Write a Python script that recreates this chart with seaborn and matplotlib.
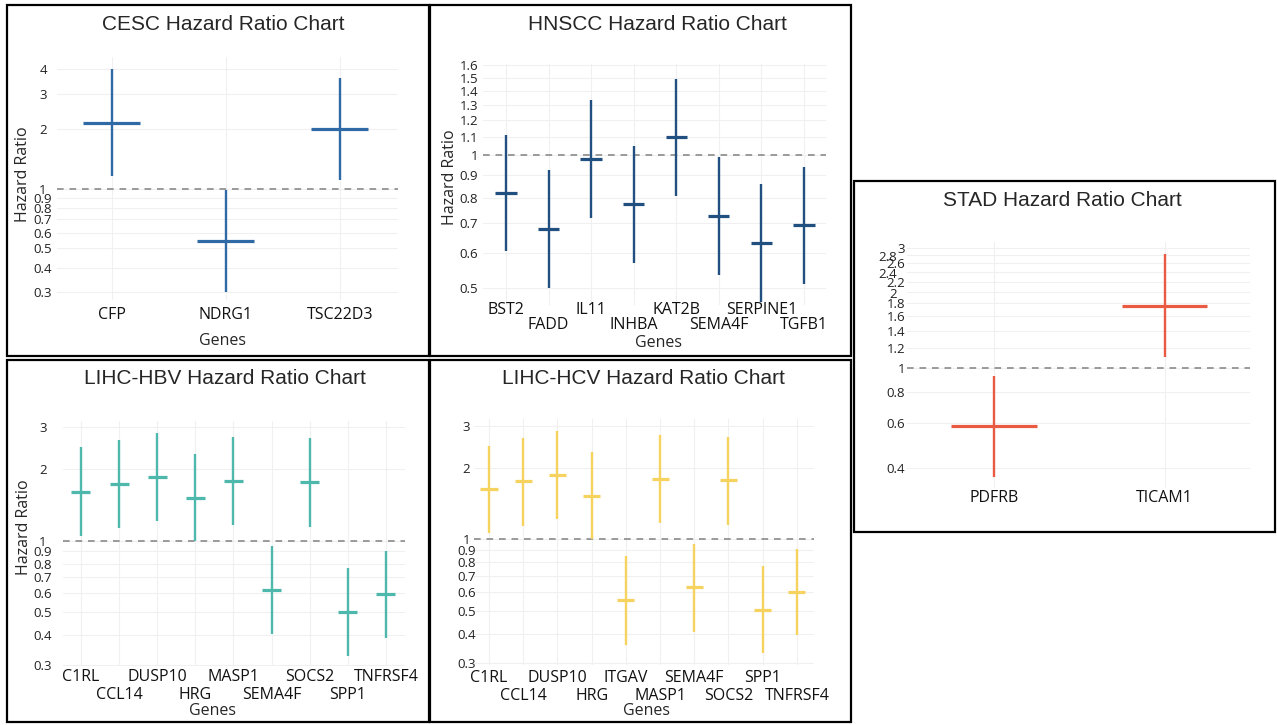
"""Hazard ratio charts for five cancer cohorts (log-scale crosses)."""

import matplotlib
matplotlib.use("Agg")
import matplotlib.pyplot as plt
import matplotlib.transforms as mtransforms
from matplotlib.patches import Rectangle
from matplotlib.ticker import FixedLocator, NullLocator
import numpy as np
import pandas as pd
import seaborn as sns

W, H, DPI = 1277, 725, 100

# --- data: hazard ratio, lower / upper 95% CI ---
CESC_GENES = ["CFP", "NDRG1", "TSC22D3"]
CESC_HR = [2.13, 0.543, 2.0]
CESC_LO = [1.16, 0.30, 1.11]
CESC_HI = [4.0, 0.99, 3.59]

HNSCC_GENES = ["BST2", "FADD", "IL11", "INHBA", "KAT2B", "SEMA4F", "SERPINE1", "TGFB1"]
HNSCC_HR = [0.823, 0.680, 0.981, 0.774, 1.099, 0.727, 0.632, 0.694]
HNSCC_LO = [0.607, 0.499, 0.722, 0.568, 0.810, 0.534, 0.465, 0.511]
HNSCC_HI = [1.112, 0.926, 1.336, 1.05, 1.49, 0.99, 0.861, 0.942]

STAD_GENES = ["PDFRB", "TICAM1"]
STAD_HR = [0.586, 1.765]
STAD_LO = [0.368, 1.099]
STAD_HI = [0.929, 2.82]

HBV_GENES = ["C1RL", "CCL14", "DUSP10", "HRG", "MASP1", "SEMA4F", "SOCS2", "SPP1", "TNFRSF4"]
HBV_HR = [1.609, 1.734, 1.861, 1.513, 1.78, 0.622, 1.76, 0.5015, 0.594]
HBV_LO = [1.05, 1.13, 1.206, 1.0, 1.16, 0.404, 1.14, 0.327, 0.389]
HBV_HI = [2.47, 2.665, 2.84, 2.32, 2.73, 0.953, 2.70, 0.767, 0.908]

HCV_GENES = ["C1RL", "CCL14", "DUSP10", "HRG", "ITGAV", "MASP1", "SEMA4F", "SOCS2", "SPP1", "TNFRSF4"]
HCV_HR = [1.618, 1.748, 1.865, 1.52, 0.554, 1.789, 0.626, 1.765, 0.504, 0.598]
HCV_LO = [1.06, 1.14, 1.22, 1.0, 0.359, 1.17, 0.407, 1.146, 0.330, 0.393]
HCV_HI = [2.47, 2.67, 2.84, 2.32, 0.848, 2.73, 0.956, 2.70, 0.772, 0.908]

TICKS_WIDE = [0.3, 0.4, 0.5, 0.6, 0.7, 0.8, 0.9, 1, 2, 3]
TICKS_HNSCC = [0.5, 0.6, 0.7, 0.8, 0.9, 1, 1.1, 1.2, 1.3, 1.4, 1.5, 1.6]
TICKS_STAD = [0.4, 0.6, 0.8, 1, 1.2, 1.4, 1.6, 1.8, 2, 2.2, 2.4, 2.6, 2.8, 3]

# --- layout (pixel boxes) ---
PANELS = [
    dict(name="CESC", genes=CESC_GENES, hr=CESC_HR, lo=CESC_LO, hi=CESC_HI,
         colour="#2f6aa6", box=(7, 5, 429.5, 356), ax=(57, 57, 398, 300),
         xlim=(-0.48, 2.51), ylim=(0.275, 4.6), ticks=TICKS_WIDE + [4],
         tick_ha="center", tick_pad=14, ylabel=(23, 174), title=(223, 25),
         rows=[315], genes_lbl=(222, 340.7)),
    dict(name="HNSCC", genes=HNSCC_GENES, hr=HNSCC_HR, lo=HNSCC_LO, hi=HNSCC_HI,
         colour="#214f80", box=(429.5, 5, 851, 356), ax=(483, 64, 826, 305),
         xlim=(-0.54, 7.52), ylim=(0.457, 1.612), ticks=TICKS_HNSCC,
         tick_ha="right", tick_pad=5, ylabel=(450, 177), title=(657, 25),
         rows=[310, 325], genes_lbl=(659, 343)),
    dict(name="STAD", genes=STAD_GENES, hr=STAD_HR, lo=STAD_LO, hi=STAD_HI,
         colour="#ea5a42", box=(854, 181, 1275, 532), ax=(907, 242, 1250, 488),
         xlim=(-0.51, 1.5), ylim=(0.332, 3.16), ticks=TICKS_STAD,
         tick_ha="right", tick_pad=2, ylabel=None, title=(1062, 200),
         rows=[498.3], genes_lbl=None),
    dict(name="LIHC-HBV", genes=HBV_GENES, hr=HBV_HR, lo=HBV_LO, hi=HBV_HI,
         colour="#4fb8ac", box=(7, 360, 429.5, 722), ax=(63, 421, 405, 666),
         xlim=(-0.47, 8.5), ylim=(0.2965, 3.19), ticks=TICKS_WIDE,
         tick_ha="center", tick_pad=20, ylabel=(24, 527), title=(225, 379),
         rows=[677.3, 695.3], genes_lbl=(213, 711.3)),
    dict(name="LIHC-HCV", genes=HCV_GENES, hr=HCV_HR, lo=HCV_LO, hi=HCV_HI,
         colour="#f6d35e", box=(429.5, 360, 851, 722), ax=(474, 419, 814, 665),
         xlim=(-0.44, 9.5), ylim=(0.295, 3.2), ticks=TICKS_WIDE,
         tick_ha="center", tick_pad=7.5, ylabel=None, title=(643, 379),
         rows=[678, 695.7], genes_lbl=(646, 711.3)),
]

sns.set_theme(style="whitegrid", rc={"grid.color": "#f0f0f0", "grid.linewidth": 0.8})
plt.rcParams["font.family"] = ["Open Sans", "DejaVu Sans"]
TITLE_FONT = ["Liberation Sans", "DejaVu Sans"]
PX = 72 / DPI  # points per pixel


def draw_panel(fig, p):
    l, t, r, b = p["ax"]
    ax = fig.add_axes([l / W, 1 - b / H, (r - l) / W, (b - t) / H])
    df = pd.DataFrame({"gene": p["genes"], "hr": p["hr"], "lo": p["lo"], "hi": p["hi"]})
    df["x"] = np.arange(len(df))

    ax.set_yscale("log")
    ax.set_xlim(*p["xlim"])
    ax.set_ylim(*p["ylim"])

    ax.axhline(1, color="#8a8a8a", lw=1.2, ls=(0, (4, 3.5)), zorder=1)
    ax.vlines(df["x"], df["lo"], df["hi"], color=p["colour"], lw=1.7, zorder=3)
    ax.hlines(df["hr"], df["x"] - 0.25, df["x"] + 0.25, color=p["colour"], lw=2.3, zorder=3)

    ax.xaxis.set_major_locator(FixedLocator(df["x"].tolist()))
    ax.set_xticklabels([])
    ax.yaxis.set_major_locator(FixedLocator(p["ticks"]))
    ax.yaxis.set_minor_locator(NullLocator())
    ax.set_yticklabels([f"{v:g}" for v in p["ticks"]])
    ax.tick_params(axis="both", length=0)
    ax.tick_params(axis="y", labelsize=9.5, pad=p["tick_pad"] * PX, colors="#222222")
    for lbl in ax.get_yticklabels():
        lbl.set_horizontalalignment(p["tick_ha"])
    if p["name"] == "STAD":
        # overlapping labels in the original are pushed left
        shift = mtransforms.ScaledTranslation(-8 / DPI, -1 / DPI, fig.dpi_scale_trans)
        for v, lbl in zip(p["ticks"], ax.get_yticklabels()):
            if v in (2, 2.4, 2.8):
                lbl.set_transform(lbl.get_transform() + shift)
    sns.despine(ax=ax, left=True, bottom=True)
    ax.grid(True, which="major")

    # staggered gene labels
    for i, g in enumerate(p["genes"]):
        y_px = p["rows"][i % len(p["rows"])]
        ax.text(i, (b - y_px) / (b - t), g, transform=ax.get_xaxis_transform(),
                ha="center", va="center", fontsize=11.5, color="#111111")

    if p["genes_lbl"] is not None:
        gx, gy = p["genes_lbl"]
        fig.text(gx / W, 1 - gy / H, "Genes", ha="center", va="center", fontsize=11.5)
    if p["ylabel"] is not None:
        yx, yy = p["ylabel"]
        fig.text(yx / W, 1 - yy / H, "Hazard Ratio", ha="center", va="center",
                 rotation=90, fontsize=11.5)

    tx, ty = p["title"]
    fig.text(tx / W, 1 - ty / H, f"{p['name']} Hazard Ratio Chart", ha="center",
             va="center", fontsize=15, family=TITLE_FONT)

    x0, y0, x1, y1 = p["box"]
    fig.add_artist(Rectangle((x0 / W, 1 - y1 / H), (x1 - x0) / W, (y1 - y0) / H,
                             transform=fig.transFigure, fill=False, lw=1.6,
                             ec="black", zorder=10))


def main():
    fig = plt.figure(figsize=(W / DPI, H / DPI), dpi=DPI)
    fig.patch.set_facecolor("white")
    for p in PANELS:
        draw_panel(fig, p)
    fig.savefig("out.png", dpi=DPI)
    plt.close(fig)


if __name__ == "__main__":
    main()
